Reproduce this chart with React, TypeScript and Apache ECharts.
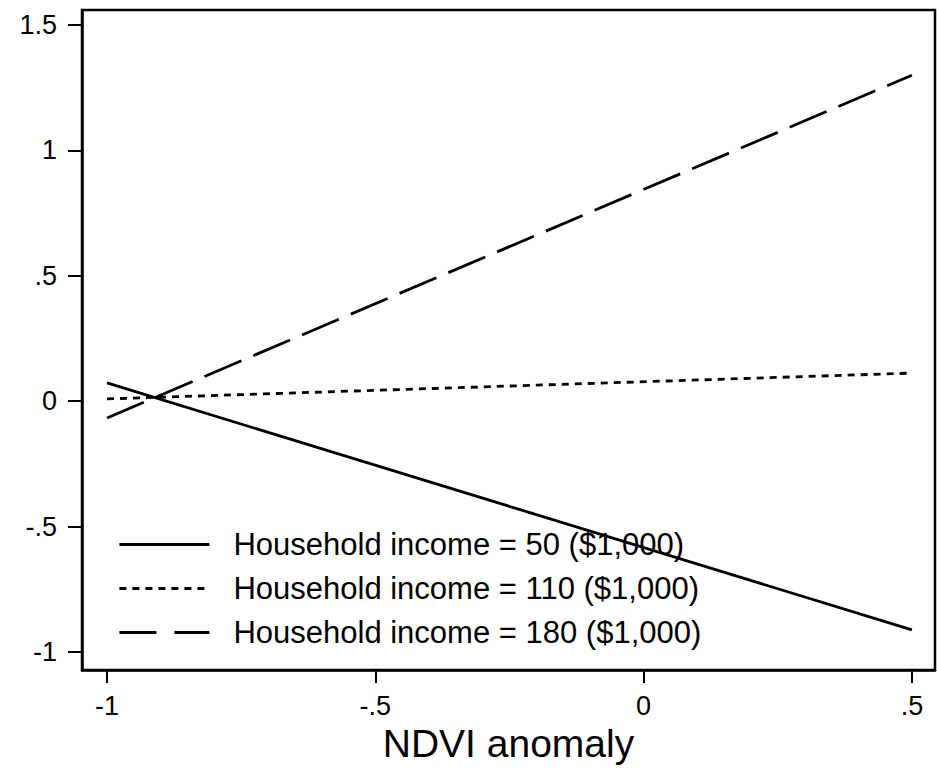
import React, { useEffect, useRef } from "react";
import * as echarts from "echarts";

const xEnds = [-1, 0.5];
const income50 = [0.073, -0.912];
const income110 = [0.009, 0.112];
const income180 = [-0.067, 1.3];
const seriesNames = [
  "Household income = 50 ($1,000)",
  "Household income = 110 ($1,000)",
  "Household income = 180 ($1,000)",
];
const xTicks = [-1, -0.5, 0, 0.5];
const yTicks = [-1, -0.5, 0, 0.5, 1, 1.5];
const xTitle = "NDVI anomaly";

const fmt = (v: number) => {
  const s = String(v);
  if (s.startsWith("0.")) return s.slice(1);
  if (s.startsWith("-0.")) return "-" + s.slice(2);
  return s;
};

const FONT = "'Liberation Sans', Arial, sans-serif";

export default function App() {
  const ref = useRef<HTMLDivElement>(null);
  useEffect(() => {
    document.body.style.margin = "0";
    const chart = echarts.init(ref.current!, null, { renderer: "svg" });
    const mk = (vals: number[]) => xEnds.map((x, i) => [x, vals[i]]);
    const dashes: any[] = ["solid", [7, 6], [40, 13]];
    const legendDashes: any[] = ["solid", [7, 6], [37, 18]];
    const datas = [income50, income110, income180];
    chart.setOption({
      animation: false,
      backgroundColor: "#fff",
      textStyle: { fontFamily: FONT },
      grid: {
        left: 82,
        top: 10,
        right: 2,
        bottom: 102,
        show: true,
        borderColor: "#000",
        borderWidth: 2.5,
        containLabel: false,
      },
      legend: {
        orient: "vertical",
        left: 118,
        top: 529,
        padding: 0,
        itemWidth: 90,
        itemHeight: 14,
        itemGap: 13,
        itemStyle: { opacity: 0, borderWidth: 0 },
        data: seriesNames.map((name, i) => ({
          name,
          lineStyle: { color: "#000", width: 2.8, type: legendDashes[i] },
        })),
        textStyle: {
          fontFamily: FONT,
          fontSize: 31,
          color: "#000",
          lineHeight: 30,
          padding: [0, 0, 0, 19],
        },
      },
      xAxis: {
        type: "value",
        min: -1.0466,
        max: 0.543,
        name: xTitle,
        nameLocation: "middle",
        nameGap: 53,
        nameTextStyle: { fontFamily: FONT, fontSize: 39, color: "#000" },
        axisLine: { show: true, onZero: false, lineStyle: { color: "#000", width: 2.5 } },
        axisTick: {
          show: true,
          length: 13,
          customValues: xTicks,
          lineStyle: { color: "#000", width: 2 },
        },
        axisLabel: {
          customValues: xTicks,
          formatter: (v: number) => fmt(v),
          fontFamily: FONT,
          fontSize: 27,
          color: "#000",
          margin: 22,
        },
        splitLine: { show: false },
      },
      yAxis: {
        type: "value",
        min: -1.072,
        max: 1.56,
        axisLine: { show: true, onZero: false, lineStyle: { color: "#000", width: 2.5 } },
        axisTick: {
          show: true,
          length: 14,
          customValues: yTicks,
          lineStyle: { color: "#000", width: 2 },
        },
        axisLabel: {
          customValues: yTicks,
          formatter: (v: number) => fmt(v),
          fontFamily: FONT,
          fontSize: 27,
          color: "#000",
          margin: 25,
        },
        splitLine: { show: false },
      },
      series: seriesNames.map((name, i) => ({
        name,
        type: "line",
        data: mk(datas[i]),
        symbol: "none",
        color: "#000",
        lineStyle: { color: "#000", width: 2.8, type: dashes[i] },
      })),
    });
    return () => chart.dispose();
  }, []);
  return (
    <div
      ref={ref}
      style={{ position: "absolute", left: 0, top: 0, width: 937, height: 772 }}
    />
  );
}
